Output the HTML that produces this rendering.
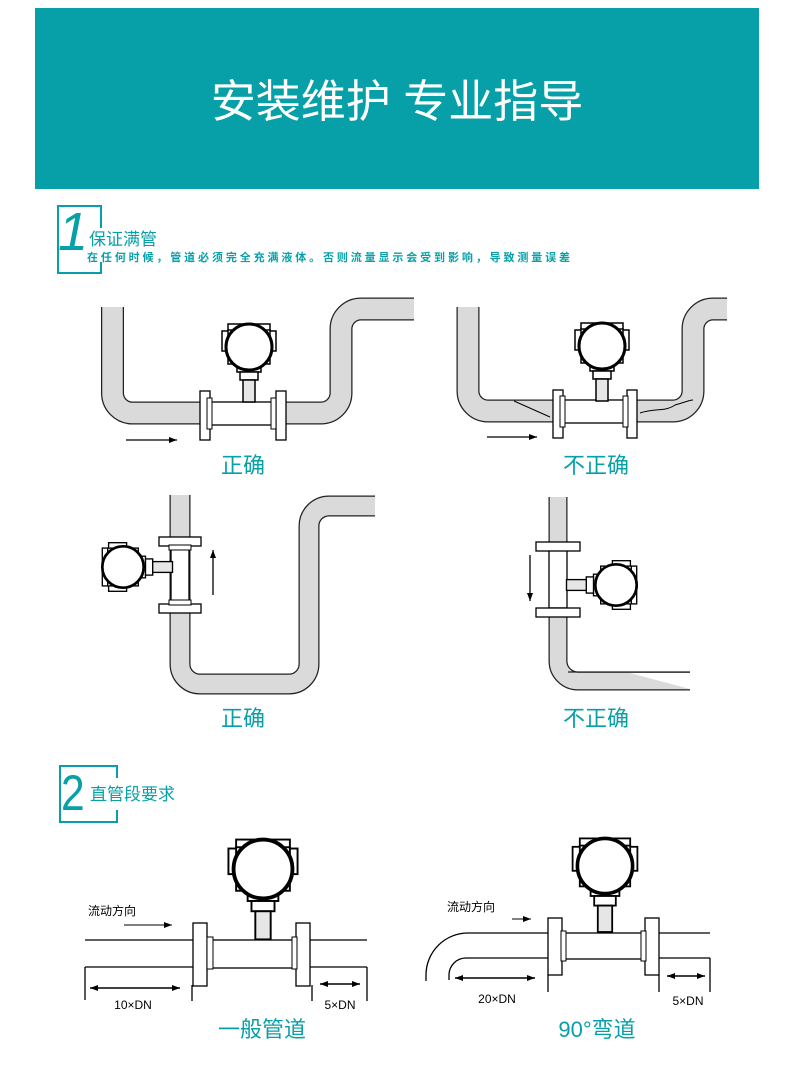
<!DOCTYPE html>
<html><head><meta charset="utf-8"><style>
html,body{margin:0;padding:0;background:#fff;}
svg{display:block;}
text{font-family:"Liberation Sans","Noto Sans CJK SC",sans-serif;}
</style></head><body>
<svg width="790" height="1072" viewBox="0 0 790 1072" xmlns="http://www.w3.org/2000/svg">
<defs>
<g id="tx" stroke="#000" fill="#fff">
  <rect x="-21" y="-23" width="42" height="7" stroke-width="1.5"/>
  <rect x="-27" y="-16" width="7" height="20" stroke-width="1.5"/>
  <rect x="20" y="-16" width="7" height="20" stroke-width="1.5"/>
  <rect x="-21" y="-17" width="42" height="34" stroke-width="1.5"/>
  <rect x="-12" y="17" width="24" height="8" stroke-width="1.5"/>
  <rect x="-9" y="25" width="18" height="8" stroke-width="1.5"/>
  <rect x="-6" y="33" width="12" height="22" stroke-width="1.5" fill="#e6e6e6"/>
  <circle cx="0" cy="0" r="23" stroke-width="3"/>
</g>
<marker id="ah" markerWidth="8" markerHeight="6" refX="8" refY="3" orient="auto" markerUnits="userSpaceOnUse"><path d="M0,0L8,3L0,6z" fill="#000"/></marker>
</defs>

<rect x="35" y="8" width="724" height="181" fill="#08a0a8"/>
<text x="397" y="117" font-size="45" fill="#fff" text-anchor="middle">安装维护 专业指导</text>

<!-- section 1 header -->
<path d="M101,228V206H58V273H101V262" fill="none" stroke="#08a0a8" stroke-width="2"/>
<text x="58" y="250" font-size="54" font-style="italic" fill="#08a0a8">1</text>
<text x="89" y="245" font-size="17" fill="#08a0a8">保证满管</text>
<text x="87" y="261" font-size="11" font-weight="bold" fill="#08a0a8" textLength="483" lengthAdjust="spacing">在任何时候，管道必须完全充满液体。否则流量显示会受到影响，导致测量误差</text>

<!-- diagram 1 -->
<g fill="none">
<path d="M112.5,307V393a20,20 0 0 0 20,20H321a20,20 0 0 0 20,-20V329a20,20 0 0 1 20,-20H414" stroke="#222" stroke-width="23"/>
<path d="M112.5,307V393a20,20 0 0 0 20,20H321a20,20 0 0 0 20,-20V329a20,20 0 0 1 20,-20H414" stroke="#dadada" stroke-width="20.5"/>
</g>
<rect x="210" y="402" width="62" height="23" fill="#fff" stroke="#000" stroke-width="1.3"/>
<rect x="200" y="391" width="10" height="49" fill="#fff" stroke="#000" stroke-width="1.3"/>
<rect x="207" y="398" width="5" height="31" fill="#fff" stroke="#000" stroke-width="1"/>
<rect x="276" y="391" width="10" height="49" fill="#fff" stroke="#000" stroke-width="1.3"/>
<rect x="271" y="398" width="5" height="31" fill="#fff" stroke="#000" stroke-width="1"/>
<use href="#tx" transform="translate(249,347)"/>
<line x1="126" y1="440" x2="177" y2="440" stroke="#000" stroke-width="1.3" marker-end="url(#ah)"/>
<text x="243" y="473" font-size="22" fill="#08a0a8" text-anchor="middle">正确</text>

<!-- diagram 2 -->
<g fill="none">
<path d="M468,307V391a20,20 0 0 0 20,20H673a20,20 0 0 0 20,-20V329a20,20 0 0 1 20,-20H727" stroke="#222" stroke-width="23"/>
<path d="M468,307V391a20,20 0 0 0 20,20H673a20,20 0 0 0 20,-20V329a20,20 0 0 1 20,-20H727" stroke="#dadada" stroke-width="20.5"/>
</g>
<path d="M514,401L550,417" stroke="#000" stroke-width="1"/>
<path d="M640,413C655,408 665,412 675,405C685,402 690,400 693,400" stroke="#000" stroke-width="1" fill="none"/>
<rect x="563" y="400" width="63" height="23" fill="#fff" stroke="#000" stroke-width="1.3"/>
<rect x="553" y="390" width="10" height="48" fill="#fff" stroke="#000" stroke-width="1.3"/>
<rect x="560" y="396" width="5" height="31" fill="#fff" stroke="#000" stroke-width="1"/>
<rect x="627" y="390" width="10" height="48" fill="#fff" stroke="#000" stroke-width="1.3"/>
<rect x="623" y="396" width="5" height="31" fill="#fff" stroke="#000" stroke-width="1"/>
<use href="#tx" transform="translate(602,346)"/>
<line x1="487" y1="437" x2="537" y2="437" stroke="#000" stroke-width="1.3" marker-end="url(#ah)"/>
<text x="596" y="473" font-size="22" fill="#08a0a8" text-anchor="middle">不正确</text>

<!-- diagram 3 -->
<g fill="none">
<path d="M180,495V664a20,20 0 0 0 20,20H289a20,20 0 0 0 20,-20V526a20,20 0 0 1 20,-20H375" stroke="#222" stroke-width="21"/>
<path d="M180,495V664a20,20 0 0 0 20,20H289a20,20 0 0 0 20,-20V526a20,20 0 0 1 20,-20H375" stroke="#dadada" stroke-width="18.5"/>
</g>
<rect x="171" y="546" width="18" height="58" fill="#fff" stroke="#000" stroke-width="1.3"/>
<rect x="159" y="537" width="42" height="9" fill="#fff" stroke="#000" stroke-width="1.3"/>
<rect x="169" y="545" width="22" height="5" fill="#fff" stroke="#000" stroke-width="1"/>
<rect x="159" y="604" width="42" height="9" fill="#fff" stroke="#000" stroke-width="1.3"/>
<rect x="169" y="600" width="22" height="5" fill="#fff" stroke="#000" stroke-width="1"/>
<use href="#tx" transform="translate(123,567) rotate(-90) scale(0.9)"/>
<line x1="213" y1="595" x2="213" y2="550" stroke="#000" stroke-width="1.3" marker-end="url(#ah)"/>
<text x="243" y="726" font-size="22" fill="#08a0a8" text-anchor="middle">正确</text>

<!-- diagram 4 -->
<g fill="none">
<path d="M558,497V661a20,20 0 0 0 20,20H690" stroke="#222" stroke-width="19"/>
<path d="M558,497V661a20,20 0 0 0 20,20H690" stroke="#dadada" stroke-width="16.5"/>
</g>
<path d="M630,673H690V689z" fill="#fff"/>
<line x1="568" y1="672" x2="690" y2="672" stroke="#222" stroke-width="1.3"/>
<rect x="549" y="550" width="18" height="58" fill="#fff" stroke="#000" stroke-width="1.3"/>
<rect x="536" y="542" width="44" height="9" fill="#fff" stroke="#000" stroke-width="1.3"/>
<rect x="536" y="608" width="44" height="9" fill="#fff" stroke="#000" stroke-width="1.3"/>
<use href="#tx" transform="translate(616,585) rotate(90) scale(0.9)"/>
<line x1="530" y1="555" x2="530" y2="601" stroke="#000" stroke-width="1.3" marker-end="url(#ah)"/>
<text x="596" y="726" font-size="22" fill="#08a0a8" text-anchor="middle">不正确</text>

<!-- section 2 header -->
<path d="M117,778V766H60V822H117V810" fill="none" stroke="#08a0a8" stroke-width="2"/>
<text x="61" y="810" font-size="50" fill="#08a0a8" transform="translate(61,810) scale(0.85,1) translate(-61,-810)">2</text>
<text x="90" y="800" font-size="17" fill="#08a0a8">直管段要求</text>

<!-- diagram 5 -->
<g stroke="#000" stroke-width="1.3" fill="none">
<line x1="85" y1="940" x2="193" y2="940"/><line x1="85" y1="967" x2="193" y2="967"/>
<line x1="310" y1="940" x2="367" y2="940"/><line x1="310" y1="967" x2="367" y2="967"/>
<line x1="85" y1="967" x2="85" y2="1000"/><line x1="192" y1="985" x2="192" y2="1001"/>
<line x1="312" y1="985" x2="312" y2="1001"/><line x1="367" y1="967" x2="367" y2="1001"/>
</g>
<rect x="212" y="940" width="82" height="28" fill="#fff" stroke="#000" stroke-width="1.3"/>
<rect x="193" y="923" width="14" height="63" fill="#fff" stroke="#000" stroke-width="1.3"/>
<rect x="207" y="937" width="6" height="32" fill="#fff" stroke="#000" stroke-width="1"/>
<rect x="296" y="923" width="14" height="63" fill="#fff" stroke="#000" stroke-width="1.3"/>
<rect x="292" y="937" width="5" height="32" fill="#fff" stroke="#000" stroke-width="1"/>
<use href="#tx" transform="translate(263,869) scale(1.28)"/>
<g stroke="#000" stroke-width="1.5">
<line x1="135" y1="988" x2="90" y2="988" marker-end="url(#ah)"/><line x1="135" y1="988" x2="180" y2="988" marker-end="url(#ah)"/>
<line x1="340" y1="984" x2="320" y2="984" marker-end="url(#ah)"/><line x1="340" y1="984" x2="360" y2="984" marker-end="url(#ah)"/>
<line x1="124" y1="925" x2="172" y2="925" stroke-width="1" marker-end="url(#ah)"/>
</g>
<text x="133" y="1009" font-size="12" text-anchor="middle">10×DN</text>
<text x="340" y="1009" font-size="12" text-anchor="middle">5×DN</text>
<text x="88" y="915" font-size="12">流动方向</text>
<text x="262" y="1037" font-size="22" fill="#08a0a8" text-anchor="middle">一般管道</text>

<!-- diagram 6 -->
<g stroke="#000" stroke-width="1.3" fill="none">
<path d="M426,981V975A42,42 0 0 1 468,933H549"/>
<path d="M449,980V975A17,17 0 0 1 466,958H549"/>
<line x1="659" y1="933" x2="710" y2="933"/><line x1="659" y1="958" x2="710" y2="958"/>
<line x1="548" y1="975" x2="548" y2="992"/><line x1="659" y1="975" x2="659" y2="992"/>
<line x1="710" y1="958" x2="710" y2="992"/>
</g>
<rect x="565" y="933" width="80" height="26" fill="#fff" stroke="#000" stroke-width="1.3"/>
<rect x="548" y="918" width="14" height="57" fill="#fff" stroke="#000" stroke-width="1.3"/>
<rect x="561" y="931" width="5" height="30" fill="#fff" stroke="#000" stroke-width="1"/>
<rect x="645" y="918" width="14" height="57" fill="#fff" stroke="#000" stroke-width="1.3"/>
<rect x="641" y="931" width="5" height="30" fill="#fff" stroke="#000" stroke-width="1"/>
<use href="#tx" transform="translate(605,866) scale(1.2)"/>
<g stroke="#000" stroke-width="1.5">
<line x1="495" y1="978" x2="455" y2="978" marker-end="url(#ah)"/><line x1="495" y1="978" x2="535" y2="978" marker-end="url(#ah)"/>
<line x1="686" y1="976" x2="667" y2="976" marker-end="url(#ah)"/><line x1="686" y1="976" x2="705" y2="976" marker-end="url(#ah)"/>
<line x1="512" y1="919" x2="531" y2="919" stroke-width="1" marker-end="url(#ah)"/>
</g>
<text x="497" y="1003" font-size="12" text-anchor="middle">20×DN</text>
<text x="688" y="1005" font-size="12" text-anchor="middle">5×DN</text>
<text x="447" y="911" font-size="12">流动方向</text>
<text x="597" y="1037" font-size="22" fill="#08a0a8" text-anchor="middle">90°弯道</text>
</svg>
</body></html>
